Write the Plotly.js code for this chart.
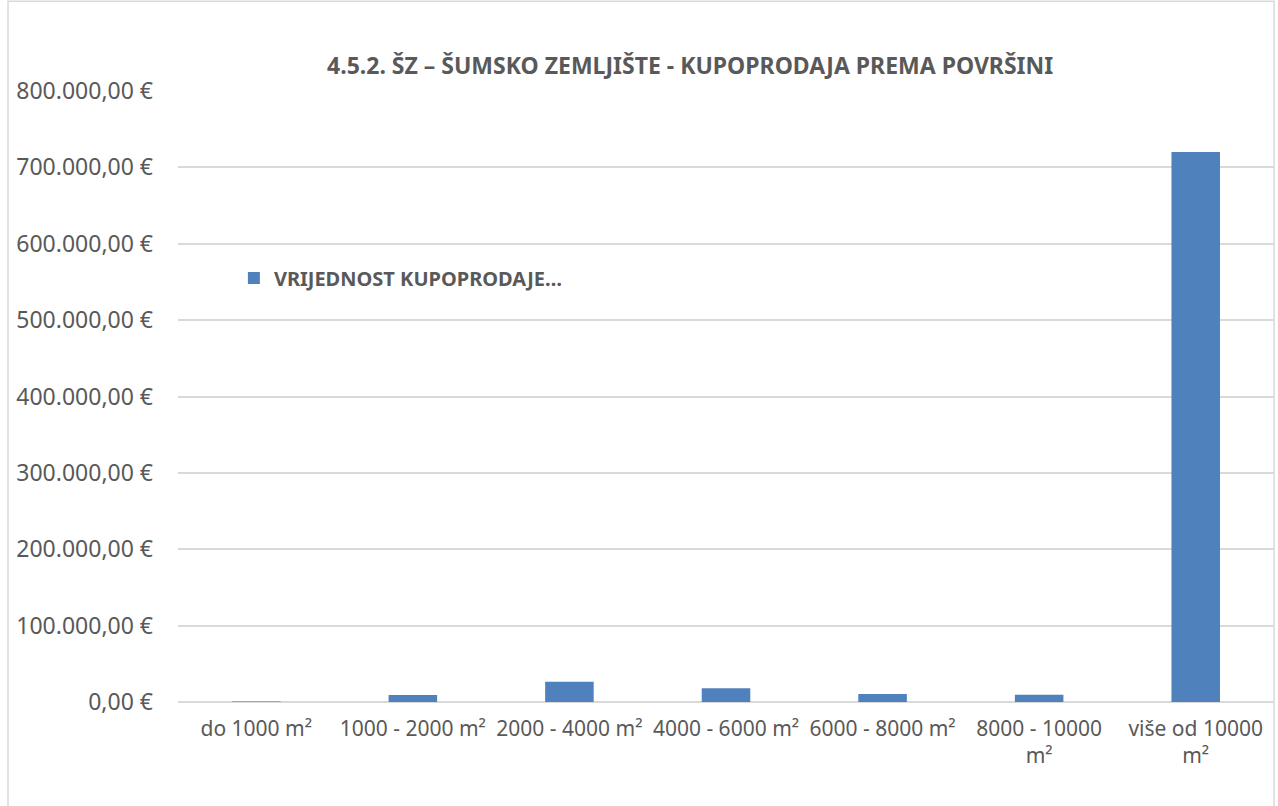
<!DOCTYPE html>
<html><head><meta charset="utf-8">
<script src="https://cdn.plot.ly/plotly-3.0.1.min.js"></script>
<style>html,body{margin:0;padding:0;background:#fff}#c{width:1278px;height:806px}</style>
</head><body><div id="c"></div>
<script>
const categories = ["do 1000 m²", "1000 - 2000 m²", "2000 - 4000 m²", "4000 - 6000 m²", "6000 - 8000 m²", "8000 - 10000<br>m²", "više od 10000<br>m²"];
const values = [600, 9200, 26500, 18000, 10500, 9600, 720000];
const seriesName = "VRIJEDNOST KUPOPRODAJE…";
const titleText = "4.5.2. ŠZ – ŠUMSKO ZEMLJIŠTE - KUPOPRODAJA PREMA POVRŠINI";

const font = "Noto Sans, Open Sans, sans-serif";
Plotly.newPlot('c', [{
  type: 'bar', x: categories, y: values, name: seriesName,
  marker: {color: '#4f81bd', line: {color: '#4f81bd', width: 0}},
  showlegend: true, hoverinfo: 'skip'
}], {
  width: 1278, height: 806,
  margin: {l: 178, r: 4, t: 91, b: 104},
  paper_bgcolor: '#fff', plot_bgcolor: '#fff',
  separators: ',.',
  bargap: 0.69,
  title: {text: '<b>' + titleText + '</b>', x: 0.54, xanchor: 'center', y: 0.918, yanchor: 'middle',
          font: {family: font, size: 23, color: '#595959'}},
  xaxis: {type: 'category', showgrid: false, zeroline: false, showline: false, ticks: '', ticklabelstandoff: 12,
          tickfont: {family: font, size: 21, color: '#595959'}, automargin: false},
  yaxis: {range: [0, 800000], dtick: 100000, tickformat: ',.2f', ticksuffix: ' €',
          showgrid: true, gridcolor: '#d9d9d9', gridwidth: 2, zeroline: true, zerolinecolor: '#d9d9d9', zerolinewidth: 2,
          showline: false, ticks: '', ticklabelstandoff: 24,
          tickfont: {family: font, size: 23, color: '#595959'}, automargin: false},
  legend: {x: 0.051, y: 0.694, xanchor: 'left', yanchor: 'middle', bgcolor: 'rgba(0,0,0,0)',
           font: {family: font, size: 20, color: '#595959', weight: 'bold'}, itemwidth: 30},
  shapes: [{type: 'rect', xref: 'paper', yref: 'paper', x0: -0.1551, x1: 1.0, y0: -0.2, y1: 1.147,
            line: {color: '#d9d9d9', width: 1.5}, fillcolor: 'rgba(0,0,0,0)', layer: 'below'}]
}, {displayModeBar: false, staticPlot: true});
</script></body></html>
